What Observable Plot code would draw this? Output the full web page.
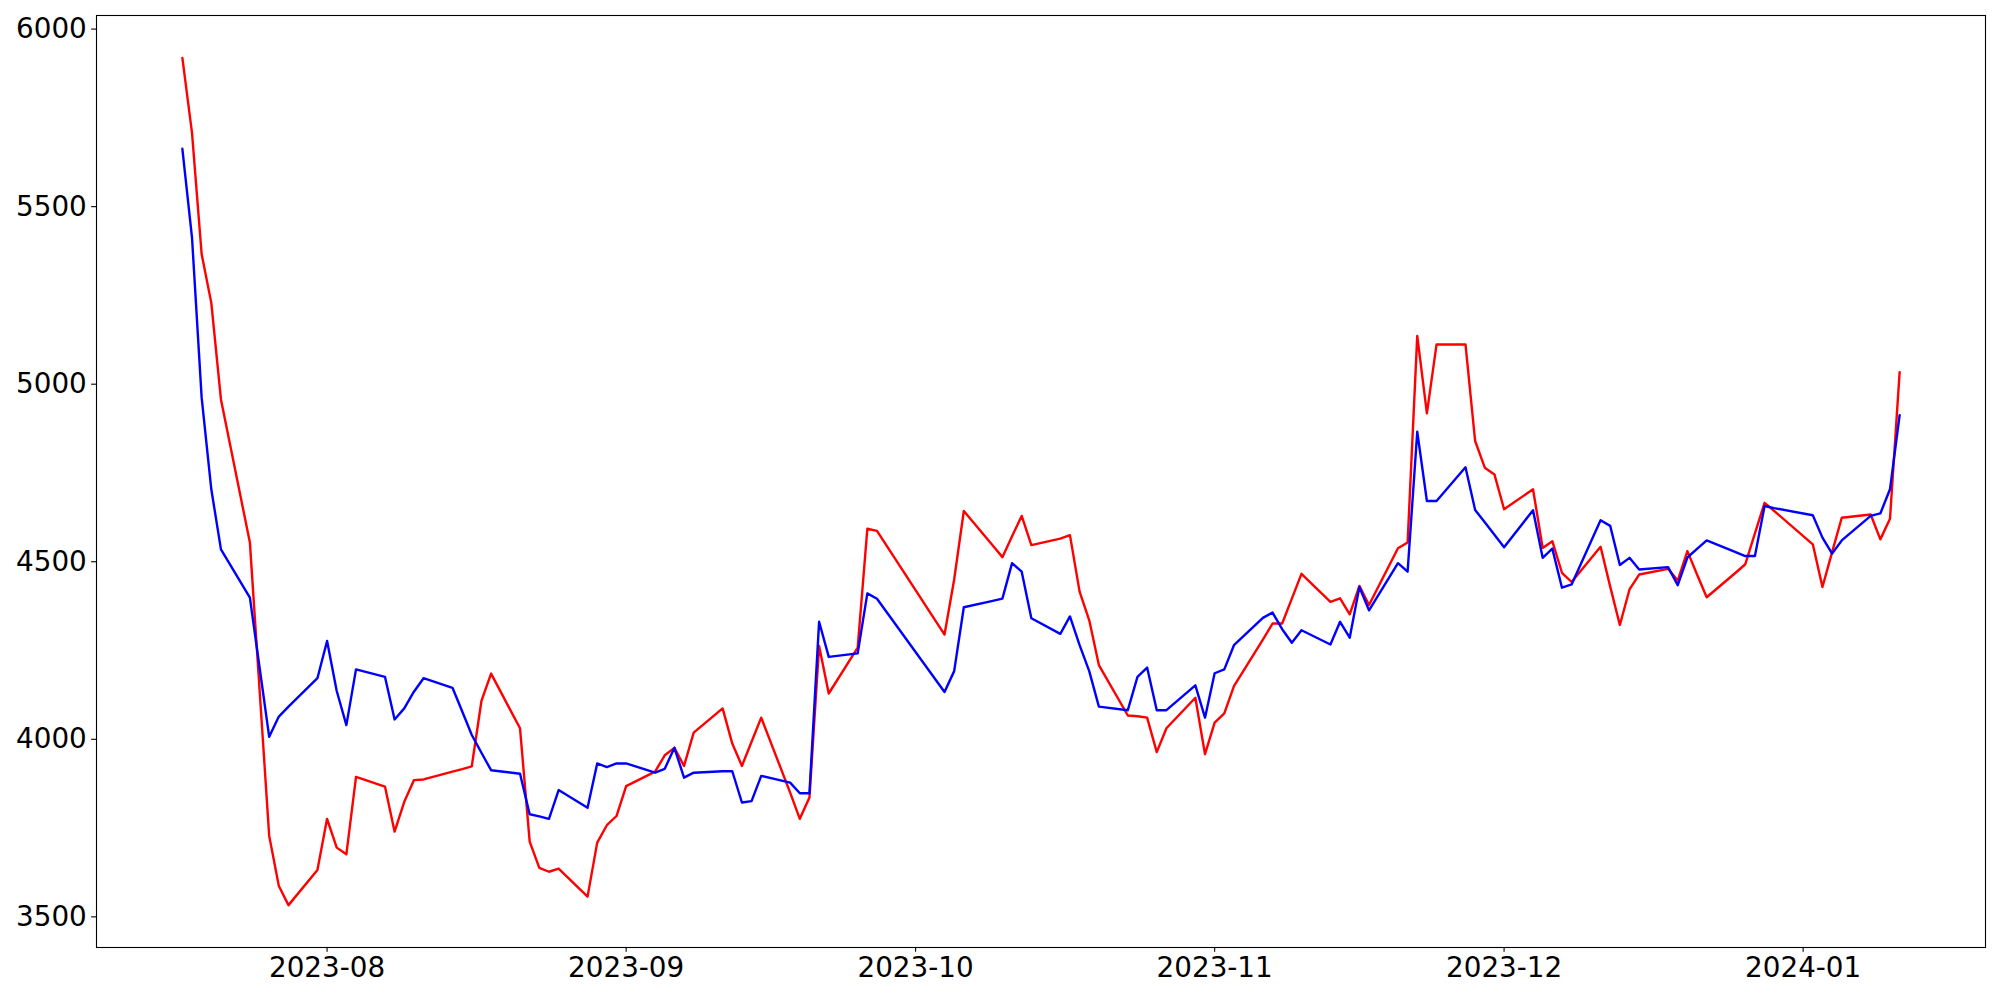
<!DOCTYPE html>
<html>
<head>
<meta charset="utf-8">
<script src="https://cdn.jsdelivr.net/npm/d3@7"></script>
<script src="https://cdn.jsdelivr.net/npm/@observablehq/plot@0.6"></script>
<style>
html, body { margin: 0; padding: 0; background: #fff; overflow: hidden; }
#chart svg { display: block; }
</style>
</head>
<body>
<div id="chart"></div>
<script>
// ---- data ----
const dates = [
  "2023-07-17","2023-07-18","2023-07-19","2023-07-20","2023-07-21","2023-07-24","2023-07-25","2023-07-26","2023-07-27","2023-07-28","2023-07-31",
  "2023-08-01","2023-08-02","2023-08-03","2023-08-04","2023-08-07","2023-08-08","2023-08-09","2023-08-10","2023-08-11","2023-08-14","2023-08-15","2023-08-16","2023-08-17","2023-08-18","2023-08-21","2023-08-22","2023-08-23","2023-08-24","2023-08-25","2023-08-28","2023-08-29","2023-08-30","2023-08-31",
  "2023-09-01","2023-09-04","2023-09-05","2023-09-06","2023-09-07","2023-09-08","2023-09-11","2023-09-12","2023-09-13","2023-09-14","2023-09-15","2023-09-18","2023-09-19","2023-09-20","2023-09-21","2023-09-22","2023-09-25","2023-09-26","2023-09-27",
  "2023-10-04","2023-10-05","2023-10-06","2023-10-09","2023-10-10","2023-10-11","2023-10-12","2023-10-13","2023-10-16","2023-10-17","2023-10-18","2023-10-19","2023-10-20","2023-10-23","2023-10-24","2023-10-25","2023-10-26","2023-10-27","2023-10-30","2023-10-31",
  "2023-11-01","2023-11-02","2023-11-03","2023-11-06","2023-11-07","2023-11-08","2023-11-09","2023-11-10","2023-11-13","2023-11-14","2023-11-15","2023-11-16","2023-11-17","2023-11-20","2023-11-21","2023-11-22","2023-11-23","2023-11-24","2023-11-27","2023-11-28","2023-11-29","2023-11-30",
  "2023-12-01","2023-12-04","2023-12-05","2023-12-06","2023-12-07","2023-12-08","2023-12-11","2023-12-12","2023-12-13","2023-12-14","2023-12-15","2023-12-18","2023-12-19","2023-12-20","2023-12-21","2023-12-22","2023-12-25","2023-12-26","2023-12-27","2023-12-28","2023-12-29",
  "2024-01-02","2024-01-03","2024-01-04","2024-01-05","2024-01-08","2024-01-09","2024-01-10","2024-01-11"
];

const redValues = [
  5919, 5708, 5366, 5229, 4957, 4554, 4141, 3728, 3587, 3533, 3632,
  3776, 3695, 3676, 3894, 3867, 3740, 3824, 3885, 3887, 3909, 3916, 3924, 4108, 4185, 4031, 3712, 3638, 3627, 3636, 3557, 3709, 3758, 3784,
  3868, 3909, 3955, 3976, 3925, 4019, 4087, 3988, 3925, 3993, 4061, 3850, 3776, 3836, 4263, 4129, 4258, 4593, 4587,
  4295, 4450, 4643, 4546, 4513, 4572, 4629, 4547, 4565, 4575, 4416, 4335, 4209, 4067, 4065, 4061, 3964, 4031, 4117, 3958,
  4047, 4073, 4150, 4281, 4326, 4326, 4396, 4466, 4387, 4397, 4352, 4432, 4378, 4538, 4554, 5136, 4918, 5112, 5112, 4840, 4765, 4746,
  4648, 4704, 4539, 4558, 4469, 4443, 4542, 4430, 4322, 4422, 4464, 4480, 4447, 4530, 4464, 4400, 4469, 4493, 4580, 4666, 4643,
  4549, 4429, 4527, 4624, 4633, 4563, 4621, 5034
];

const blueValues = [
  5663, 5413, 4962, 4704, 4535, 4399, 4203, 4007, 4064, 4092, 4172,
  4277, 4136, 4040, 4197, 4176, 4056, 4087, 4134, 4172, 4145, 4079, 4012, 3962, 3913, 3903, 3789, 3783, 3776, 3857, 3807, 3932, 3922, 3932,
  3932, 3906, 3917, 3976, 3892, 3906, 3910, 3910, 3822, 3826, 3897, 3878, 3848, 3848, 4331, 4232, 4242, 4411, 4396,
  4133, 4192, 4372, 4390, 4396, 4496, 4472, 4341, 4297, 4346, 4265, 4192, 4092, 4082, 4176, 4202, 4082, 4082, 4152, 4061,
  4186, 4197, 4265, 4342, 4357, 4310, 4272, 4307, 4267, 4331, 4286, 4429, 4363, 4496, 4472, 4866, 4671, 4671, 4766, 4646, 4611, 4576,
  4541, 4645, 4511, 4537, 4427, 4436, 4617, 4601, 4491, 4511, 4478, 4485, 4434, 4512, 4536, 4560, 4527, 4516, 4516, 4657, 4651,
  4631, 4568, 4523, 4560, 4629, 4636, 4704, 4913
];

const xTickLabels = ["2023-08", "2023-09", "2023-10", "2023-11", "2023-12", "2024-01"];
const yTickValues = [3500, 4000, 4500, 5000, 5500, 6000];

// ---- build table ----
const parseDay = d3.utcParse("%Y-%m-%d");
const parseMonth = d3.utcParse("%Y-%m");
const rows = dates.map((d, i) => ({ date: parseDay(d), red: redValues[i], blue: blueValues[i] }));
const xTicks = xTickLabels.map(parseMonth);

// matplotlib-style 5% auto margins
const t0 = rows[0].date, t1 = rows[rows.length - 1].date;
const tp = (t1 - t0) * 0.05;
const allVals = redValues.concat(blueValues);
const yMin = d3.min(allVals), yMax = d3.max(allVals), yp = (yMax - yMin) * 0.05;

const FS = 27.8;
const chart = Plot.plot({
  width: 2000,
  height: 1000,
  marginLeft: 96,
  marginRight: 15,
  marginTop: 15,
  marginBottom: 53,
  style: { fontFamily: "DejaVu Sans", background: "white", color: "black", overflow: "visible" },
  x: { type: "utc", domain: [new Date(+t0 - tp), new Date(+t1 + tp)] },
  y: { domain: [yMin - yp, yMax + yp] },
  marks: [
    Plot.line(rows, { x: "date", y: "red", stroke: "#ff0000", strokeWidth: 2.4 }),
    Plot.line(rows, { x: "date", y: "blue", stroke: "#0000ff", strokeWidth: 2.4 }),
    Plot.frame({ stroke: "black", strokeWidth: 1.1 }),
    Plot.axisX({ ticks: xTicks, tickFormat: d3.utcFormat("%Y-%m"), tickSize: 4.86, tickPadding: 4.86, fontSize: FS, label: null, strokeWidth: 1.1 }),
    Plot.axisY({ ticks: yTickValues, tickFormat: d => String(d), tickSize: 4.86, tickPadding: 4.86, fontSize: FS, label: null, strokeWidth: 1.1 })
  ]
});
document.getElementById("chart").appendChild(chart);
</script>
</body>
</html>
